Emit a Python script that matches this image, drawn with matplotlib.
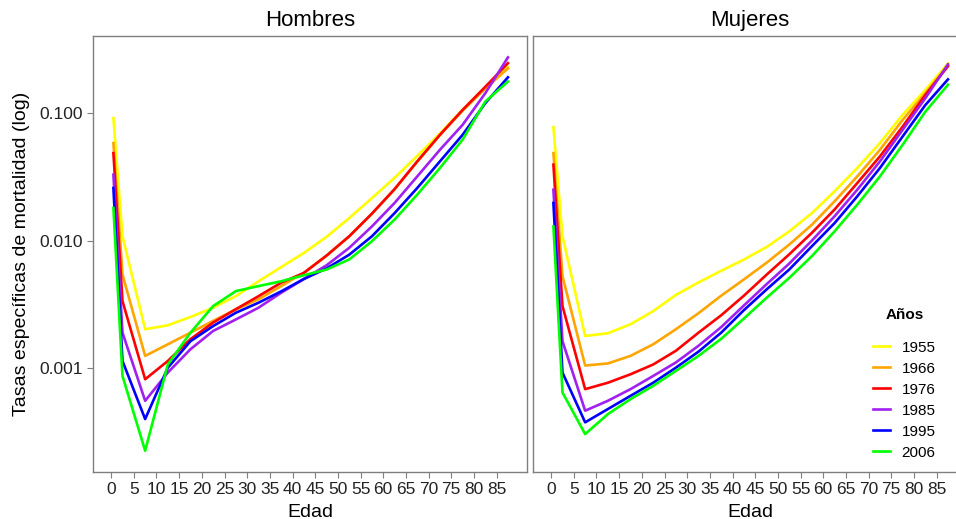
import numpy as np
import matplotlib
matplotlib.use("Agg")
import matplotlib.pyplot as plt
from matplotlib.ticker import FixedLocator, NullLocator

plt.rcParams['font.family'] = ['Liberation Sans', 'DejaVu Sans']

edades = [0.5, 2.5] + [7.5 + 5 * i for i in range(17)]
anios = ['1955', '1966', '1976', '1985', '1995', '2006']
colores = ['#FFFF00', '#FFA500', '#FF0000', '#A020F0', '#0000FF', '#00FF00']

hombres = {
    '1955': [0.091, 0.0108, 0.00202, 0.00217, 0.00252, 0.00298, 0.00367, 0.0048, 0.0062, 0.0080,
             0.0107, 0.0150, 0.0215, 0.031, 0.046, 0.069, 0.106, 0.158, 0.228],
    '1966': [0.058, 0.00542, 0.00125, 0.00154, 0.0019, 0.00235, 0.00289, 0.00347, 0.0044, 0.0056,
             0.0076, 0.0108, 0.0162, 0.0252, 0.0415, 0.067, 0.104, 0.155, 0.223],
    '1976': [0.0484, 0.00336, 0.00082, 0.00114, 0.00169, 0.00228, 0.0029, 0.00367, 0.00468, 0.00558,
             0.00763, 0.0108, 0.01625, 0.0253, 0.0417, 0.0673, 0.1055, 0.160, 0.245],
    '1985': [0.0328, 0.0019, 0.000556, 0.000925, 0.00141, 0.00196, 0.00241, 0.00298, 0.0039, 0.0050,
             0.0064, 0.00877, 0.0129, 0.0197, 0.0318, 0.0514, 0.0806, 0.1425, 0.272],
    '1995': [0.0258, 0.00114, 0.0004, 0.00101, 0.00163, 0.00214, 0.00272, 0.00326, 0.0040, 0.0050,
             0.00605, 0.00775, 0.0108, 0.0164, 0.0258, 0.0417, 0.0673, 0.119, 0.190],
    '2006': [0.018, 0.00087, 0.000226, 0.00107, 0.0019, 0.00307, 0.00402, 0.0044, 0.0048, 0.00535,
             0.00593, 0.00711, 0.00988, 0.0146, 0.0229, 0.037, 0.0617, 0.1225, 0.176],
}

mujeres = {
    '1955': [0.0773, 0.0108, 0.00179, 0.00188, 0.00221, 0.0028, 0.00375, 0.0047, 0.0058, 0.0071,
             0.0089, 0.0118, 0.0164, 0.0243, 0.037, 0.058, 0.0965, 0.151, 0.244],
    '1966': [0.0484, 0.00526, 0.00105, 0.00109, 0.00125, 0.00154, 0.00202, 0.0027, 0.0037, 0.00496,
             0.0067, 0.0093, 0.0133, 0.0203, 0.0318, 0.0514, 0.088, 0.1425, 0.235],
    '1976': [0.0393, 0.00307, 0.000686, 0.00077, 0.000897, 0.00107, 0.00137, 0.0019, 0.0026, 0.0037,
             0.0054, 0.0078, 0.0115, 0.0175, 0.0282, 0.0456, 0.078, 0.138, 0.232],
    '1985': [0.025, 0.00163, 0.000465, 0.000556, 0.000686, 0.00087, 0.00111, 0.0015, 0.0021, 0.0031,
             0.00455, 0.0066, 0.0100, 0.0155, 0.025, 0.0417, 0.0736, 0.130, 0.240],
    '1995': [0.0197, 0.000925, 0.000377, 0.000479, 0.000608, 0.00077, 0.00101, 0.00135, 0.0019, 0.00285,
             0.00414, 0.00593, 0.00903, 0.0137, 0.0222, 0.037, 0.0653, 0.115, 0.183],
    '2006': [0.0129, 0.000646, 0.000305, 0.000437, 0.000573, 0.000728, 0.000953, 0.00125, 0.0017, 0.00245,
             0.00356, 0.0051, 0.00755, 0.0118, 0.0191, 0.0318, 0.0562, 0.102, 0.166],
}

W, H = 956, 519
fig = plt.figure(figsize=(W / 100, H / 100), dpi=100)
bottom = (H - 472) / H
height = (472 - 36) / H
ax1 = fig.add_axes([93 / W, bottom, 434 / W, height])
ax2 = fig.add_axes([533 / W, bottom, 434 / W, height], sharey=ax1)

for ax, datos, titulo in [(ax1, hombres, 'Hombres'), (ax2, mujeres, 'Mujeres')]:
    for anio, col in zip(anios, colores):
        ax.plot(edades, datos[anio], color=col, lw=1.9, label=anio)
    ax.set_yscale('log')
    ax.set_xlim(-4, 91.7)
    ax.set_ylim(10 ** -3.8125, 10 ** -0.398)
    ax.set_xticks(np.arange(0, 90, 5))
    ax.tick_params(axis='both', labelsize=12.5, colors='#222222', length=4, width=0.8,
                   color='#7f7f7f', pad=3)
    for s in ax.spines.values():
        s.set_color('#7f7f7f')
        s.set_linewidth(1.0)
    ax.set_title(titulo, fontsize=16, pad=7)
    ax.set_xlabel('Edad', fontsize=14, labelpad=5)
    ax.yaxis.set_minor_locator(NullLocator())

ax1.yaxis.set_major_locator(FixedLocator([0.001, 0.01, 0.1]))
ax1.set_yticklabels(['0.001', '0.010', '0.100'])
ax1.set_ylabel('Tasas específicas de mortalidad (log)', fontsize=14, labelpad=7)
ax2.tick_params(axis='y', left=False, labelleft=False)

# leyenda sin marco, titulo aparte para dejar el hueco del original
leg = ax2.legend(loc='upper left', bbox_to_anchor=(862 / W, 1 - 330 / H),
                 bbox_transform=fig.transFigure, frameon=False, fontsize=11,
                 handlelength=1.15, labelspacing=0.46, handletextpad=0.75,
                 borderpad=0.2)
fig.text(905 / W, 1 - 315 / H, 'Años', fontsize=11, fontweight='bold',
         ha='center', va='center')

fig.savefig('out.png', dpi=100)
